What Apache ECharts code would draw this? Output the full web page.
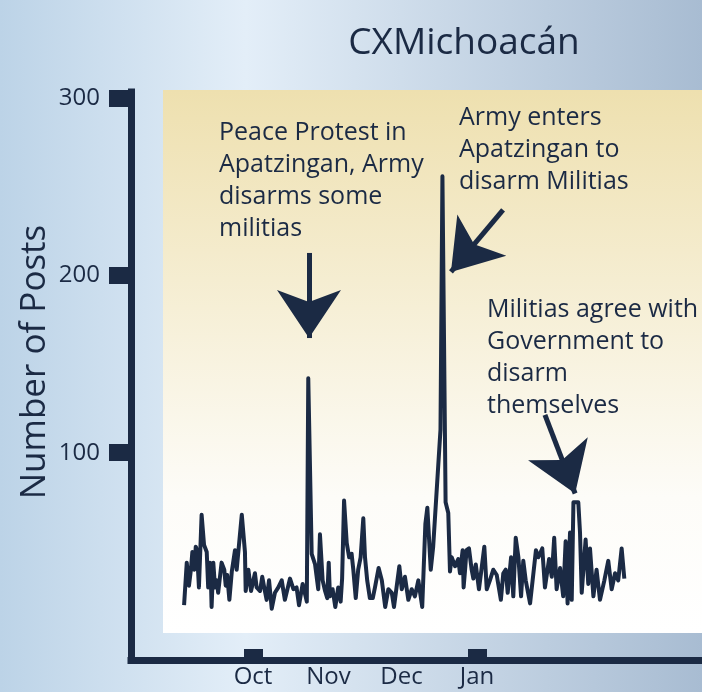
<!DOCTYPE html>
<html><head><meta charset="utf-8">
<script src="https://cdn.jsdelivr.net/npm/echarts@6/dist/echarts.min.js"></script>
<style>html,body{margin:0;padding:0;background:#fff;}#c{width:702px;height:692px;}</style>
</head><body><div id="c"></div>
<script>
// days since 1 Oct 2013
const dayOffsets = [-28.3,-27.2,-26.3,-25.5,-24.9,-24.1,-23.5,-23.0,-22.2,-21.1,-20.1,-19.0,-18.4,-17.7,-17.3,-17.0,-16.3,-15.6,-14.9,-14.3,-12.9,-11.8,-11.2,-10.6,-9.7,-8.7,-7.4,-6.7,-4.6,-4.0,-3.3,-3.0,-1.9,-0.8,0.8,1.5,2.9,3.8,4.6,5.6,6.6,7.7,9.0,10.4,11.8,13.1,15.2,16.6,17.9,18.9,20.4,22.1,22.7,24.1,25.5,26.8,27.5,28.6,29.6,30.5,31.1,31.6,32.7,33.8,35.0,36.0,36.6,37.4,38.5,39.5,40.5,41.2,42.2,43.2,44.2,45.3,46.0,46.9,48.0,49.2,50.1,51.6,52.9,54.3,55.6,57.0,57.9,60.1,61.1,62.4,63.8,65.2,66.5,67.9,69.5,70.8,71.6,73.0,74.0,77.0,77.8,79.1,80.2,80.9,81.6,83.0,84.3,85.0,86.1,86.5,87.1,87.7,88.7,89.8,90.5,91.5,92.8,95.0,96.0,97.3,98.7,100.1,101.8,102.8,103.8,104.6,106.0,106.9,107.9,109.0,110.1,111.0,112.0,113.8,116.2,117.2,118.8,119.9,121.6,122.7,123.7,124.7,126.1,127.4,128.4,129.2,130.2,130.9,131.6,133.6,134.3,135.0,136.6,137.7,138.4,139.8,141.1,142.5,144.3,145.9,147.3,148.7,150.0,151.4,152.5];
const posts = [14,38,25,34,44,34,47,45,24,65,48,44,24,38,29,13,38,24,28,21,38,34,25,31,17,33,45,34,65,65,44,22,34,22,32,24,22,30,24,17,28,12,21,24,28,17,29,23,24,14,26,16,142,43,37,23,54,28,22,18,38,19,23,13,24,16,29,73,49,41,43,34,18,34,41,63,41,28,18,18,24,35,28,13,23,21,13,36,23,30,17,23,19,28,13,60,69,34,47,113,256,72,66,33,41,36,40,32,45,24,34,45,46,34,29,37,23,47,23,28,34,31,17,32,34,21,41,19,52,41,19,39,28,15,45,41,46,24,40,30,52,23,35,19,50,15,55,17,72,72,55,21,51,26,46,19,34,17,28,39,23,32,28,46,29];
const yTickValues = [100, 200, 300];
const xTickDays = [0, 92];
const monthLabelDays = [0, 31, 61, 92];
const monthLabels = ['Oct', 'Nov', 'Dec', 'Jan'];
// annotation arrows: [fromDay, fromValue, toDay, toValue]
const arrows = [
  [23.0, 212.7, 23.0, 164.7],
  [102.7, 237.0, 81.3, 202.0],
  [119.9, 121.3, 132.3, 77.0]
];
const notes = [
  ['Peace Protest in', 'Apatzingan, Army', 'disarms some', 'militias'],
  ['Army enters', 'Apatzingan to', 'disarm Militias'],
  ['Militias agree with', 'Government to', 'disarm', 'themselves']
];

const NAVY = '#1b2a44';
const FONT = '"Open Sans", Lato, sans-serif';
const chart = echarts.init(document.getElementById('c'), null, {renderer: 'canvas'});

const notePos = [[219, 133], [459, 118], [487, 310]];
const noteGraphics = notes.map((lines, i) => ({
  type: 'text', left: notePos[i][0], top: notePos[i][1] - 16, z: 100,
  style: {text: lines.join('\n'), fill: NAVY, font: '25px ' + FONT, lineHeight: 32}
}));

chart.setOption({
  animation: false,
  graphic: [
    {type: 'rect', left: 0, top: 0, z: -10, shape: {width: 702, height: 692},
     style: {fill: new echarts.graphic.LinearGradient(0, 0, 1, 0, [
       {offset: 0, color: '#bcd3e7'}, {offset: 0.35, color: '#e3eef8'}, {offset: 1, color: '#a8bcd2'}])}},
    {type: 'rect', left: 163, top: 90, z: -9, shape: {width: 539, height: 543},
     style: {fill: new echarts.graphic.LinearGradient(0, 0, 0, 1, [
       {offset: 0, color: '#eee0af'}, {offset: 0.75, color: '#fdfcf8'}, {offset: 1, color: '#ffffff'}])}},
    {type: 'text', x: 464, y: 43, z: 100,
     style: {text: 'CXMichoacán', fill: NAVY, font: '37px ' + FONT, align: 'center', verticalAlign: 'middle'}},
    {type: 'text', x: 35, y: 362, rotation: Math.PI / 2, z: 100,
     style: {text: 'Number of Posts', fill: NAVY, font: '35px ' + FONT, align: 'center', verticalAlign: 'middle'}},
    ...noteGraphics
  ],
  grid: {left: 131, right: 0, top: 92, bottom: 32, containLabel: false, outerBoundsMode: 'none'},
  xAxis: {
    type: 'value', min: -50.1, max: 184.4,
    splitLine: {show: false},
    axisLine: {show: true, onZero: false, lineStyle: {color: NAVY, width: 7, cap: 'square'}},
    axisTick: {show: true, inside: true, length: 11, customValues: xTickDays, lineStyle: {color: NAVY, width: 19}},
    axisLabel: {show: true, customValues: monthLabelDays, margin: 5, color: NAVY, fontSize: 24, fontFamily: FONT,
      formatter: v => monthLabels[monthLabelDays.indexOf(Math.round(v))] || ''}
  },
  yAxis: {
    type: 'value', min: -16.93, max: 303.5,
    splitLine: {show: false},
    axisLine: {show: true, onZero: false, lineStyle: {color: NAVY, width: 7, cap: 'square'}},
    axisTick: {show: true, inside: false, length: 22, customValues: yTickValues, lineStyle: {color: NAVY, width: 17}},
    axisLabel: {show: true, customValues: yTickValues, margin: 31, color: NAVY, fontSize: 24, fontFamily: FONT}
  },
  series: [{
    type: 'line',
    data: dayOffsets.map((d, i) => [d, posts[i]]),
    showSymbol: false, symbol: 'none',
    lineStyle: {color: NAVY, width: 4, join: 'round'},
    markLine: {
      silent: true, animation: false,
      symbol: ['none', 'arrow'], symbolSize: [48, 48],
      lineStyle: {color: NAVY, width: 5, type: 'solid'},
      itemStyle: {color: NAVY},
      label: {show: false},
      emphasis: {disabled: true},
      data: arrows.map(a => [{coord: [a[0], a[1]]}, {coord: [a[2], a[3]]}])
    }
  }]
});
</script>
</body></html>
